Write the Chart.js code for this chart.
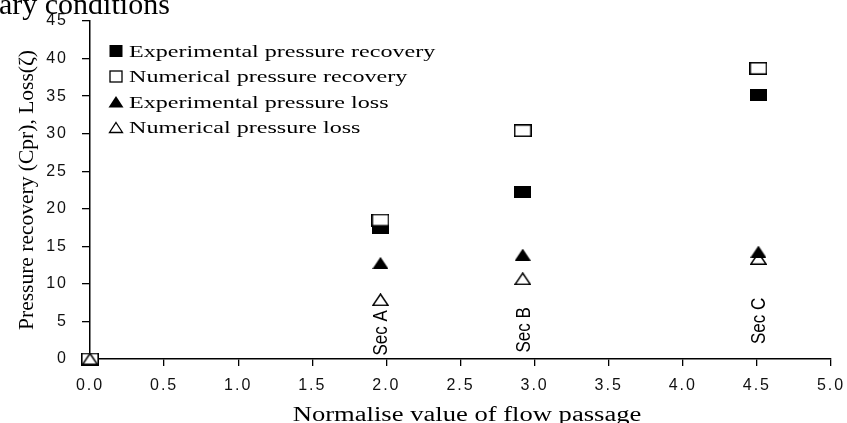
<!DOCTYPE html>
<html><head><meta charset="utf-8">
<script src="https://cdn.jsdelivr.net/npm/chart.js@4"></script>
<style>html,body{margin:0;padding:0;background:#fff;overflow:hidden}</style>
</head><body>
<div style="width:847px;height:423px;position:relative"><canvas id="c" width="847" height="423"></canvas></div>
<script>
// ---- data ----
const sections = [1.96, 2.92, 4.51];
const sectionLabels = ['Sec A', 'Sec B', 'Sec C'];
const sectionLabelBase = [0.45, 0.85, 2.0];
const expRecovery = [17.5, 22.2, 35.2];
const numRecovery = [18.5, 30.4, 38.7];
const expLoss = [12.8, 13.9, 14.3];
const numLoss = [7.9, 10.7, 13.4];
const originX = [0];
const originY = [0];
const seriesNames = ['Experimental pressure recovery', 'Numerical pressure recovery', 'Experimental pressure loss', 'Numerical pressure loss'];
const xTickValues = [0, 0.5, 1, 1.5, 2, 2.5, 3, 3.5, 4, 4.5, 5];
const yTickValues = [0, 5, 10, 15, 20, 25, 30, 35, 40, 45];
const xTitle = 'Normalise value of flow passage';
const yTitle = 'Pressure recovery (Cpr), Loss(\u03B6)';
const captionFragment = 'ary conditions';

// ---- marker images ----
function makeMarker(kind) {
  const c = document.createElement('canvas');
  const g = c.getContext('2d');
  if (kind === 'fillRect') {
    c.width = 17; c.height = 12;
    g.fillStyle = '#000'; g.fillRect(0, 0, 17, 12);
  } else if (kind === 'openRect') {
    c.width = 18; c.height = 13;
    g.fillStyle = '#fff'; g.fillRect(0, 0, 18, 13);
    g.strokeStyle = '#000'; g.lineWidth = 1.6; g.strokeRect(0.8, 0.8, 16.4, 11.4);
  } else if (kind === 'fillTri') {
    c.width = 16; c.height = 12;
    g.fillStyle = '#000'; g.beginPath(); g.moveTo(8, 0); g.lineTo(16, 12); g.lineTo(0, 12); g.closePath(); g.fill();
  } else {
    c.width = 17; c.height = 13;
    g.strokeStyle = '#000'; g.lineWidth = 1.5; g.beginPath(); g.moveTo(8.5, 1); g.lineTo(16, 12.2); g.lineTo(1, 12.2); g.closePath(); g.stroke();
  }
  return c;
}
const markers = ['fillRect', 'openRect', 'fillTri', 'openTri'].map(makeMarker);

function pts(xs, ys) { return xs.map((x, i) => ({ x, y: ys[i] })); }

// ---- plugins ----
const spacingPlugin = {
  id: 'spacing',
  beforeLayout(c) { c.ctx.letterSpacing = '2px'; },
  beforeDraw(c) { c.ctx.letterSpacing = '2px'; }
};

function drawText(ctx, str, px, py, font, sx, rot, align, baseline) {
  ctx.save();
  ctx.letterSpacing = '0px';
  ctx.translate(px, py);
  ctx.scale(sx, 1);
  ctx.rotate(rot);
  ctx.font = font;
  ctx.fillStyle = '#000';
  ctx.textAlign = align;
  ctx.textBaseline = baseline;
  ctx.fillText(str, 0, 0);
  ctx.restore();
}

const textPlugin = {
  id: 'texts',
  afterDraw(chart) {
    const { ctx, scales: { x, y }, chartArea } = chart;
    drawText(ctx, captionFragment, -1, 14, '30px "Liberation Serif"', 1, 0, 'left', 'alphabetic');
    drawText(ctx, yTitle, 33, (chartArea.top + chartArea.bottom) / 2, '21.5px "Liberation Serif"', 1, -Math.PI / 2, 'center', 'alphabetic');
    drawText(ctx, xTitle, 467, 421, '20px "Liberation Serif"', 1.33, 0, 'center', 'alphabetic');
    sectionLabels.forEach((s, i) => {
      drawText(ctx, s, x.getPixelForValue(sections[i]) + 7, y.getPixelForValue(sectionLabelBase[i]), '17px "Liberation Sans"', 1.15, -Math.PI / 2, 'left', 'alphabetic');
    });
    const rowY0 = 51, rowStep = 25.5, mx = 116, tx = 129;
    chart.data.datasets.forEach((ds, i) => {
      const cy = rowY0 + i * rowStep;
      ctx.save();
      ctx.fillStyle = '#000'; ctx.strokeStyle = '#000'; ctx.lineWidth = 1.3;
      if (i === 0) ctx.fillRect(mx - 6.5, cy - 6, 13, 12);
      else if (i === 1) ctx.strokeRect(mx - 6, cy - 5.5, 12, 11);
      else if (i === 2) { ctx.beginPath(); ctx.moveTo(mx, cy - 6); ctx.lineTo(mx + 7.5, cy + 5.5); ctx.lineTo(mx - 7.5, cy + 5.5); ctx.closePath(); ctx.fill(); }
      else { ctx.beginPath(); ctx.moveTo(mx, cy - 5); ctx.lineTo(mx + 6.5, cy + 5); ctx.lineTo(mx - 6.5, cy + 5); ctx.closePath(); ctx.stroke(); }
      ctx.restore();
      drawText(ctx, ds.label, tx, cy + 5.5, '16.5px "Liberation Serif"', 1.46, 0, 'left', 'alphabetic');
    });
  }
};

const tickFont = { family: '"Liberation Sans"', size: 16 };

new Chart(document.getElementById('c'), {
  type: 'scatter',
  data: {
    datasets: [
      { label: seriesNames[0], data: pts(sections, expRecovery), pointStyle: markers[0], order: 2 },
      { label: seriesNames[1], data: pts(originX.concat(sections), originY.concat(numRecovery)), pointStyle: markers[1], order: 1 },
      { label: seriesNames[2], data: pts(sections, expLoss), pointStyle: markers[2], order: 3 },
      { label: seriesNames[3], data: pts(originX.concat(sections), originY.concat(numLoss)), pointStyle: markers[3], order: 0 }
    ].map(d => Object.assign(d, { pointRadius: 9, clip: false, showLine: false }))
  },
  options: {
    responsive: false,
    animation: false,
    events: [],
    layout: { padding: { top: 21, right: 16, left: 0, bottom: 0 } },
    plugins: { legend: { display: false }, tooltip: { enabled: false } },
    scales: {
      x: {
        type: 'linear', min: 0, max: 5,
        afterBuildTicks: s => { s.ticks = xTickValues.map(v => ({ value: v })); },
        afterFit: s => { s.height = 64; s.paddingLeft = 0; s.paddingRight = 0; },
        ticks: { callback: v => Number(v).toFixed(1), font: tickFont, color: '#111', padding: 10, maxRotation: 0, autoSkip: false },
        grid: { drawOnChartArea: false, drawTicks: true, tickLength: 7, color: '#000', lineWidth: 1.3 },
        border: { display: true, color: '#000', width: 1.5 }
      },
      y: {
        type: 'linear', min: 0, max: 45,
        afterBuildTicks: s => { s.ticks = yTickValues.map(v => ({ value: v })); },
        afterFit: s => { s.width = 90; s.paddingTop = 0; s.paddingBottom = 0; },
        ticks: { callback: v => String(v), font: tickFont, color: '#111', padding: 14, autoSkip: false },
        grid: { drawOnChartArea: false, drawTicks: true, tickLength: 8, color: '#000', lineWidth: 1.3 },
        border: { display: true, color: '#000', width: 1.5 }
      }
    }
  },
  plugins: [spacingPlugin, textPlugin]
});
</script>
</body></html>
